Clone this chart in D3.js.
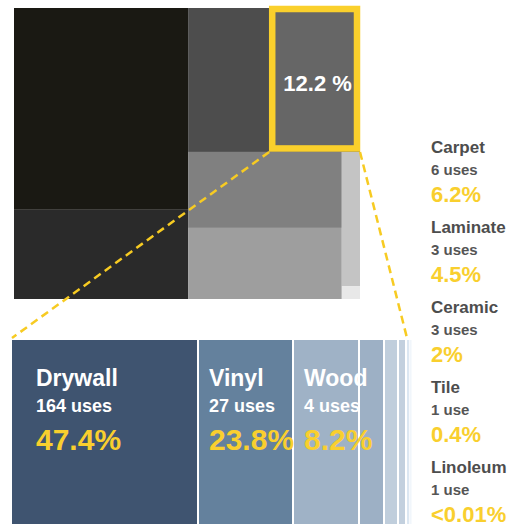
<!DOCTYPE html>
<html><head><meta charset="utf-8">
<script src="https://cdn.jsdelivr.net/npm/d3@7"></script>
<style>
html,body{margin:0;padding:0;background:#fff;}
svg{display:block;font-family:"Liberation Sans", Arial, sans-serif;}
</style></head><body>
<svg id="chart" width="519" height="524"></svg>
<script>
// ---- data ----
const topIds = ["g1","g2","g3","g4","g5","g6","g7","g8"];
const topValues = [32.8, 14.5, 10.9, 12.2, 10.9, 10.2, 2.28, 0.22];
const topColors = ["#1a1913","#2a2a2a","#4d4d4d","#666666","#808080","#9e9e9e","#c4c4c4","#e8e8e8"];
const highlightIndex = 3;
const highlightLabel = "12.2 %";

const materials = ["Drywall","Vinyl","Wood","Carpet","Laminate","Ceramic","Tile","Linoleum"];
const uses = [164, 27, 4, 6, 3, 3, 1, 1];
const pctLabels = ["47.4%","23.8%","8.2%","6.2%","4.5%","2%","0.4%","<0.01%"];
const barShare = [46.75, 23.75, 16.5, 6.25, 3.5, 2.0, 0.8, 0.45];
const barColors = ["#3f5470","#64819d","#9fb2c6","#9db0c5","#c0cedc","#c3d0de","#dce7f2","#eef4fb"];
const insideCount = 3;

// ---- layout ----
const W = 519, H = 524;
const svg = d3.select("#chart");
const YELLOW = "#f9cf2e";
const useText = u => `${u} use${u === 1 ? "" : "s"}`;

// top treemap
const tm = {x: 14, y: 8, w: 346, h: 291};
const root = d3.hierarchy({children: topValues.map((v, i) => ({id: topIds[i], value: v, i}))})
  .sum(d => d.value || 0);
d3.treemap().tile(d3.treemapSquarify).size([tm.w, tm.h]).round(false)(root);
const gTop = svg.append("g").attr("transform", `translate(${tm.x},${tm.y})`);
const leaves = root.leaves();
gTop.selectAll("rect.cell").data(leaves).join("rect")
  .attr("class", "cell")
  .attr("x", d => d.x0).attr("y", d => d.y0)
  .attr("width", d => d.x1 - d.x0).attr("height", d => d.y1 - d.y0)
  .attr("fill", d => topColors[d.data.i]);

const hl = leaves.find(d => d.data.i === highlightIndex);

// bottom bar
const barY = 340;
const x = d3.scaleLinear().domain([0, d3.sum(barShare)]).range([12, 412]);
const cum = d3.cumsum(barShare);
const bars = barShare.map((v, i) => ({i, x0: x(cum[i] - v), x1: x(cum[i])}));

// dashed connectors
const lines = [
  [hl.x0 + tm.x, hl.y1 + tm.y, x.range()[0], barY - 2],
  [hl.x1 + tm.x, hl.y1 + tm.y, x.range()[1] - 5, barY - 2]
];
svg.selectAll("line.conn").data(lines).join("line")
  .attr("class", "conn")
  .attr("x1", d => d[0]).attr("y1", d => d[1])
  .attr("x2", d => d[2]).attr("y2", d => d[3])
  .attr("stroke", "#f7cb22").attr("stroke-width", 2.5)
  .attr("stroke-dasharray", "8,5");

// highlight border + label
gTop.append("rect")
  .attr("x", hl.x0 + 3).attr("y", hl.y0 + 1)
  .attr("width", hl.x1 - hl.x0 - 6).attr("height", hl.y1 - hl.y0 - 4.5)
  .attr("fill", "none").attr("stroke", "#fad02c").attr("stroke-width", 6.5);
gTop.append("text")
  .attr("x", (hl.x0 + hl.x1) / 2 + 3).attr("y", (hl.y0 + hl.y1) / 2 + 11)
  .attr("text-anchor", "middle").attr("fill", "#fff")
  .attr("font-size", 22).attr("font-weight", "bold")
  .text(highlightLabel);

svg.selectAll("rect.bar").data(bars).join("rect")
  .attr("class", "bar")
  .attr("x", d => d.x0).attr("y", barY)
  .attr("width", d => Math.max(d.x1 - d.x0 - 2, (d.x1 - d.x0) * 0.7))
  .attr("height", H - barY)
  .attr("fill", d => barColors[d.i]);

// labels inside bars
const inside = bars.slice(0, insideCount);
const gIn = svg.selectAll("g.inl").data(inside).join("g").attr("class", "inl")
  .attr("transform", d => `translate(${d.x0 + (d.i === 0 ? 24 : 10)},0)`);
gIn.append("text").attr("y", 386).attr("fill", "#fff").attr("font-size", 23)
  .attr("font-weight", "bold").text(d => materials[d.i]);
gIn.append("text").attr("y", 412).attr("fill", "#fff").attr("font-size", 18)
  .attr("font-weight", "bold").text(d => useText(uses[d.i]));
gIn.append("text").attr("y", 450).attr("fill", YELLOW).attr("font-size", 30)
  .attr("font-weight", "bold").text(d => pctLabels[d.i]);

// legend for the rest
const rest = d3.range(insideCount, materials.length);
const gL = svg.selectAll("g.leg").data(rest).join("g").attr("class", "leg")
  .attr("transform", (d, k) => `translate(431,${153 + k * 80})`);
gL.append("text").attr("y", 0).attr("fill", "#4d4d4d").attr("font-size", 17)
  .attr("font-weight", "bold").text(d => materials[d]);
gL.append("text").attr("y", 22).attr("fill", "#555").attr("font-size", 15)
  .attr("font-weight", "bold").text(d => useText(uses[d]));
gL.append("text").attr("y", 49).attr("fill", YELLOW).attr("font-size", 22)
  .attr("font-weight", "bold").text(d => pctLabels[d]);
</script>
</body></html>
